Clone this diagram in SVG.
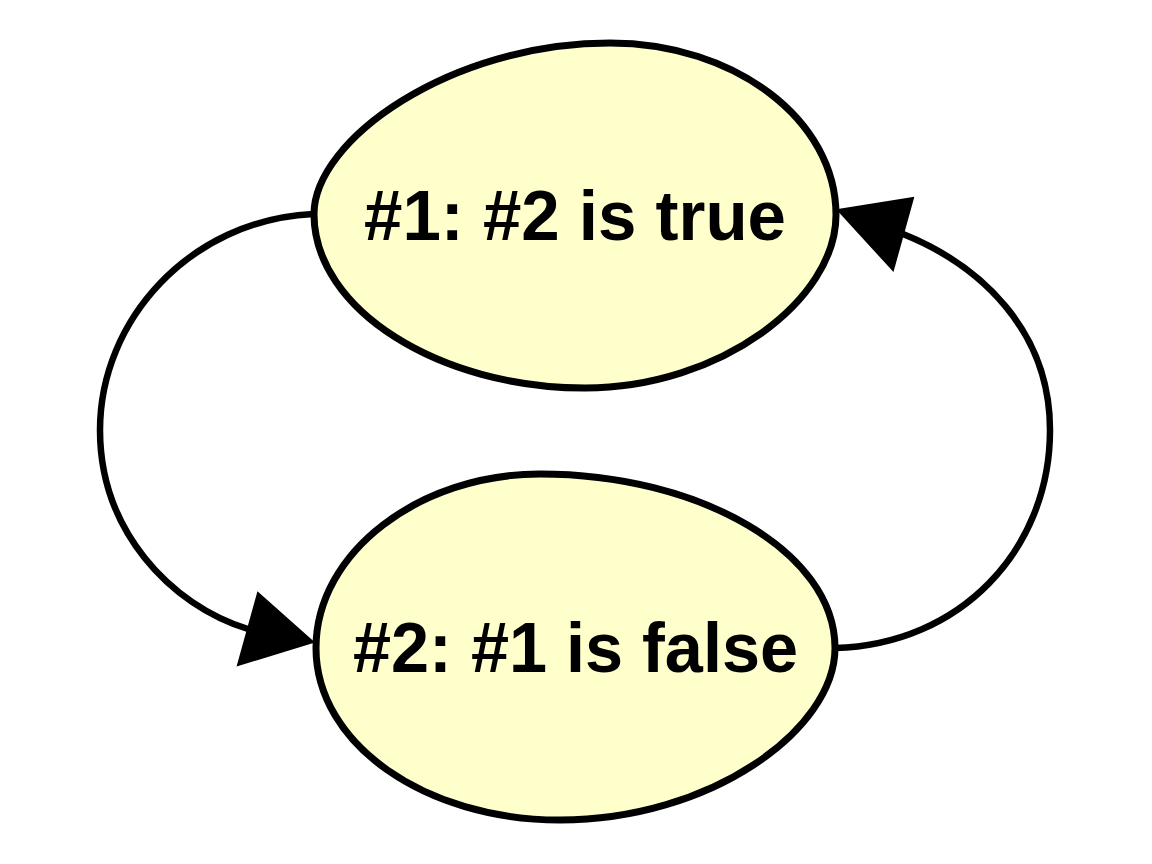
<svg xmlns="http://www.w3.org/2000/svg" width="1152" height="864" viewBox="0 0 1152 864">
<style>
.node{fill:#FFFFCC;stroke:#000;stroke-width:7}
.lbl{font-family:"Liberation Sans",Arial,sans-serif;font-weight:bold;font-size:70px;fill:#000;text-anchor:middle}
.edge{fill:none;stroke:#000;stroke-width:6.5}
.head{fill:#000;stroke:#000;stroke-width:2;stroke-linejoin:miter}
</style>
<rect width="1152" height="864" fill="#fff"/>
<g id="connectors">
<path class="edge" d="M313,214 C190,220 100,320 100,430 C100,530 170,605 248,629"/>
<polygon class="head" points="313,642 258,593 238,665"/>
<path class="edge" d="M835,648 C960,645 1050,550 1050,430 C1050,330 980,265 903,234"/>
<polygon class="head" points="838,210 913,198 893,270"/>
</g>
<g id="n1">
<path class="node" d="M314,214 C314,140 450,43 610,43 C735,43 836,120 836,215 C836,300 720,388 585,388 C440,388 314,310 314,214 Z"/>
<text class="lbl" x="575" y="240" textLength="422" lengthAdjust="spacingAndGlyphs">#1: #2 is true</text>
</g>
<g id="n2">
<path class="node" d="M316,648 C316,552 420,474 540,474 C700,474 835,552 835,648 C835,730 710,820 560,820 C425,820 316,744 316,648 Z"/>
<text class="lbl" x="575.5" y="672" textLength="445" lengthAdjust="spacingAndGlyphs">#2: #1 is false</text>
</g>
</svg>
